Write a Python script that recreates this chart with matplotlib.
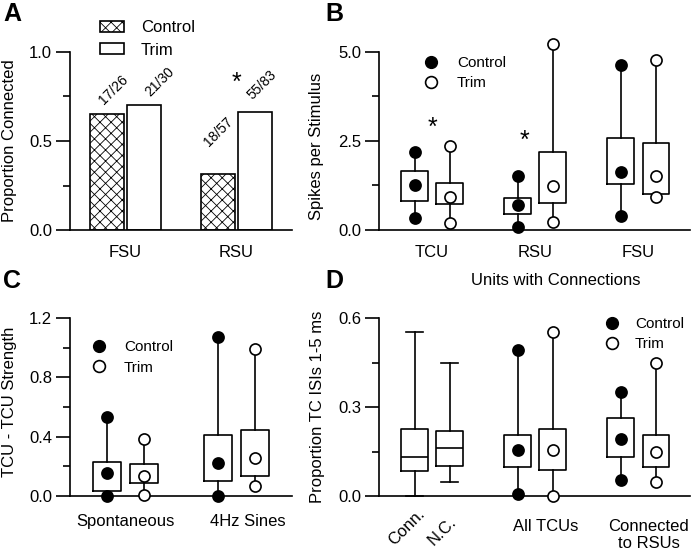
import numpy as np
import matplotlib
matplotlib.use('Agg')
import matplotlib.pyplot as plt
from matplotlib.lines import Line2D
from matplotlib.patches import Patch

plt.rcParams['font.family'] = ['Liberation Sans', 'DejaVu Sans']
plt.rcParams['font.size'] = 12
plt.rcParams['hatch.linewidth'] = 0.6
plt.rcParams['axes.linewidth'] = 1.2

# ---- data ----
# A: connected / total
a_groups = ['FSU', 'RSU']
a_ctrl_n = [17, 18]
a_ctrl_tot = [26, 57]
a_trim_n = [21, 55]
a_trim_tot = [30, 83]
a_star = 0.87  # RSU

# B: whislo, q1, median, q3, whishi
b_groups = ['TCU', 'RSU', 'FSU']
b_ctrl = [[0.35, 0.82, 1.26, 1.66, 2.20],
          [0.09, 0.44, 0.70, 0.90, 1.52],
          [0.39, 1.29, 1.62, 2.59, 4.64]]
b_trim = [[0.21, 0.73, 0.94, 1.33, 2.35],
          [0.22, 0.75, 1.24, 2.19, 5.23],
          [0.94, 1.02, 1.52, 2.44, 4.78]]
b_star = [3.08, 2.74]  # TCU, RSU

# C
c_groups = ['Spontaneous', '4Hz Sines']
c_ctrl = [[0.0, 0.034, 0.158, 0.227, 0.53],
          [0.0, 0.104, 0.225, 0.414, 1.07]]
c_trim = [[0.007, 0.09, 0.137, 0.218, 0.387],
          [0.068, 0.135, 0.254, 0.448, 0.993]]

# D
d_pooled_labels = ['Conn.', 'N.C.']
d_pooled = [[0.0, 0.083, 0.13, 0.225, 0.552],
            [0.047, 0.102, 0.163, 0.218, 0.45]]
d_groups = ['All TCUs', 'Connected\nto RSUs']
d_ctrl = [[0.007, 0.098, 0.155, 0.207, 0.492],
          [0.053, 0.13, 0.191, 0.263, 0.352]]
d_trim = [[0.0, 0.089, 0.155, 0.227, 0.552],
          [0.047, 0.097, 0.148, 0.205, 0.45]]

W, H = 691, 553
LW = 1.2
OFF = 0.17


def stats(v):
    lo, q1, med, q3, hi = v
    return dict(whislo=lo, q1=q1, med=med, q3=q3, whishi=hi, fliers=[])


def draw_boxes(ax, data, pos, width, filled=None, capwidth=0.16):
    line = dict(color='black', lw=LW)
    with_median = filled is None
    arts = ax.bxp([stats(v) for v in data], positions=pos, widths=width,
                  showcaps=with_median, capwidths=capwidth, showfliers=False,
                  boxprops=line, whiskerprops=line, capprops=line,
                  medianprops=line if with_median else dict(linestyle='none'),
                  manage_ticks=False)
    for k in arts:
        for a in arts[k]:
            a.set_clip_on(False)
    if not with_median:
        for p, v in zip(pos, data):
            ax.plot([p] * 3, [v[0], v[2], v[4]], 'o', ms=8,
                    mfc='black' if filled else 'white', mec='black', mew=1.2,
                    clip_on=False, zorder=5)


def style(ax, major, minor, labels, xlim):
    for s in ['top', 'right']:
        ax.spines[s].set_visible(False)
    ax.set_ylim(major[0], major[-1])
    ax.set_yticks(major, labels)
    ax.set_yticks(minor, minor=True)
    ax.tick_params(axis='y', which='major', length=10, width=LW, pad=3, labelsize=12)
    ax.tick_params(axis='y', which='minor', length=5, width=LW)
    ax.tick_params(axis='x', which='both', length=0, pad=11, labelsize=12)
    ax.set_xlim(*xlim)


def marker_legend(ax, anchor, pad, spacing=0.38):
    h = [Line2D([], [], ls='none', marker='o', ms=8.5, mfc='black', mec='black'),
         Line2D([], [], ls='none', marker='o', ms=8.5, mfc='white', mec='black', mew=1.2)]
    ax.legend(h, ['Control', 'Trim'], loc='upper left', bbox_to_anchor=anchor,
              frameon=False, fontsize=11, handlelength=1.0, handletextpad=pad,
              labelspacing=spacing, borderpad=0, borderaxespad=0)


fig = plt.figure(figsize=(W / 100, H / 100), dpi=100)
axA = fig.add_axes([70 / W, 323 / H, 222 / W, 178 / H])
axB = fig.add_axes([379 / W, 323 / H, 311 / W, 178 / H])
axC = fig.add_axes([70 / W, 57 / H, 222 / W, 178 / H])
axD = fig.add_axes([379 / W, 57 / H, 311 / W, 178 / H])

# ---- A ----
xa = np.arange(len(a_groups))
ctrl_p = np.array(a_ctrl_n) / np.array(a_ctrl_tot)
trim_p = np.array(a_trim_n) / np.array(a_trim_tot)
axA.bar(xa - 0.167, ctrl_p, 0.31, color='white', edgecolor='black', hatch='xxx', lw=LW)
axA.bar(xa + 0.167, trim_p, 0.31, color='white', edgecolor='black', lw=LW)
frac_offsets = [(7, 24), (0, 42), (16, 24), (7, 27)]
labels = [f'{n}/{t}' for n, t in zip(a_ctrl_n, a_ctrl_tot)] + \
         [f'{n}/{t}' for n, t in zip(a_trim_n, a_trim_tot)]
xs = list(xa - 0.167) + list(xa + 0.167)
ys = list(ctrl_p) + list(trim_p)
for lab, x, y, off in zip(labels, xs, ys, frac_offsets):
    axA.annotate(lab, (x, y), xytext=off, textcoords='offset pixels',
                 rotation=45, ha='center', va='center', fontsize=10)
axA.annotate('*', (1, a_star), xytext=(0, -15), textcoords='offset pixels',
             ha='center', va='baseline', fontsize=18)
style(axA, [0, 0.5, 1.0], [0.25, 0.75], ['0.0', '0.5', '1.0'], (-0.5, 1.5))
axA.set_xticks(xa, a_groups)
axA.set_ylabel('Proportion Connected', fontsize=12)
axA.yaxis.set_label_coords(-0.237, 0.5)
axA.legend([Patch(facecolor='white', edgecolor='black', hatch='xxx', lw=LW),
            Patch(facecolor='white', edgecolor='black', lw=LW)],
           ['Control', 'Trim'], loc='upper left', bbox_to_anchor=(0.135, 1.178),
           frameon=False, fontsize=12, handlelength=1.44, handleheight=0.66,
           handletextpad=1.0, labelspacing=0.44, borderpad=0, borderaxespad=0)

# ---- B ----
xb = np.arange(len(b_groups))
draw_boxes(axB, b_ctrl, xb - OFF, 0.26, filled=True)
draw_boxes(axB, b_trim, xb + OFF, 0.26, filled=False)
for x, y in zip([0, 0.9], b_star):
    axB.annotate('*', (x, y), xytext=(0, -15), textcoords='offset pixels',
                 ha='center', va='baseline', fontsize=18)
style(axB, [0, 2.5, 5.0], [1.25, 3.75], ['0.0', '2.5', '5.0'], (-0.515, 2.5))
axB.set_xticks(xb, b_groups)
axB.set_ylabel('Spikes per Stimulus', fontsize=12)
axB.yaxis.set_label_coords(-0.177, 0.47)
axB.set_xlabel('Units with Connections', fontsize=12)
axB.xaxis.set_label_coords(0.569, -0.24)
marker_legend(axB, (0.143, 0.977), 1.2)

# ---- C ----
xc = np.arange(len(c_groups))
draw_boxes(axC, c_ctrl, xc - 0.167, 0.245, filled=True)
draw_boxes(axC, c_trim, xc + 0.167, 0.245, filled=False)
style(axC, [0, 0.4, 0.8, 1.2], [0.2, 0.6, 1.0], ['0.0', '0.4', '0.8', '1.2'], (-0.5, 1.5))
axC.set_xticks(xc + np.array([0, 0.1]), c_groups)
axC.tick_params(axis='x', pad=13)
axC.set_ylabel('TCU - TCU Strength', fontsize=12)
axC.yaxis.set_label_coords(-0.24, 0.53)
marker_legend(axC, (0.096, 0.877), 1.13, spacing=0.44)

# ---- D ----
draw_boxes(axD, d_pooled, [-OFF, OFF], 0.26, filled=None, capwidth=0.16)
xd = np.arange(1, 1 + len(d_groups))
draw_boxes(axD, d_ctrl, xd - OFF, 0.26, filled=True)
draw_boxes(axD, d_trim, xd + OFF, 0.26, filled=False)
style(axD, [0, 0.3, 0.6], [0.15, 0.45], ['0.0', '0.3', '0.6'], (-0.515, 2.5))
axD.set_xticks(list(xd + 0.1), d_groups)
axD.set_xticks([-OFF - 0.2, OFF - 0.16], d_pooled_labels, minor=True)
for t in axD.get_xticklabels(minor=True):
    t.set_rotation(45)
    t.set_ha('left')
    t.set_va('baseline')
    t.set_rotation_mode('anchor')
axD.tick_params(axis='x', which='major', pad=16.5)
axD.tick_params(axis='x', which='minor', pad=36)
axD.set_ylabel('Proportion TC ISIs 1-5 ms', fontsize=12)
axD.yaxis.set_label_coords(-0.174, 0.5)
marker_legend(axD, (0.725, 1.005), 1.0)

# panel letters
for lab, x, y in [('A', 3, 2), ('B', 325, 2), ('C', 3, 269), ('D', 325, 269)]:
    fig.text(x / W, 1 - y / H, lab, fontsize=18, fontweight='bold', ha='left', va='top')

fig.savefig('out.png', dpi=100)
